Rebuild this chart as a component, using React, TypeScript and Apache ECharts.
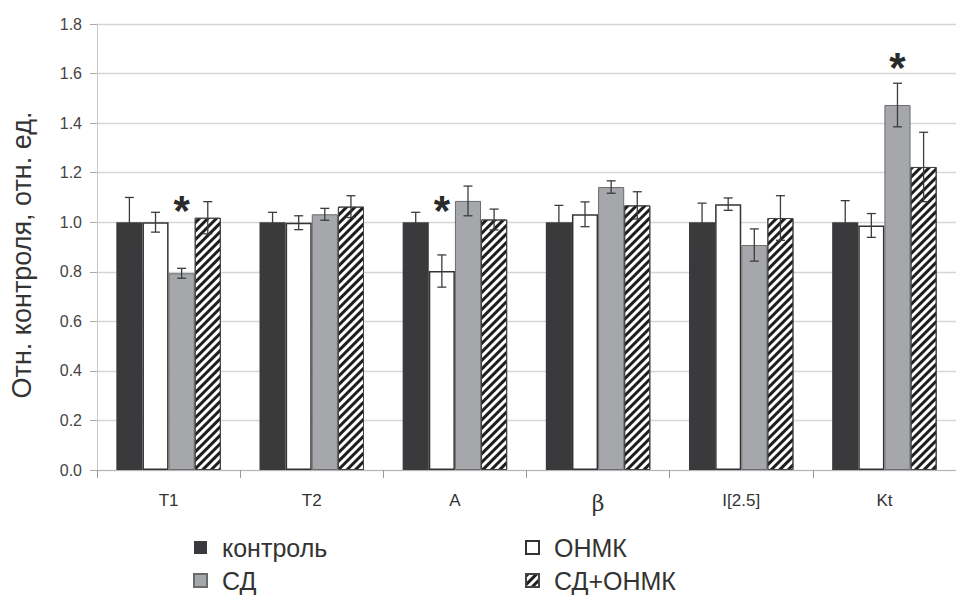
import React, { useEffect, useRef } from "react";
import * as echarts from "echarts";

const categories = ["T1", "T2", "A", "β", "I[2.5]", "Kt"];
const seriesNames = ["контроль", "ОНМК", "СД", "СД+ОНМК"];

const control = [1.0, 1.0, 1.0, 1.0, 1.0, 1.0];
const controlErr = [0.1, 0.04, 0.04, 0.068, 0.077, 0.087];
const onmk = [1.0, 0.998, 0.803, 1.032, 1.073, 0.987];
const onmkErr = [0.04, 0.028, 0.065, 0.05, 0.025, 0.048];
const sd = [0.794, 1.032, 1.086, 1.142, 0.908, 1.473];
const sdErr = [0.02, 0.024, 0.06, 0.025, 0.065, 0.088];
const sdOnmk = [1.018, 1.063, 1.011, 1.068, 1.017, 1.223];
const sdOnmkErr = [0.065, 0.044, 0.042, 0.055, 0.09, 0.14];

// significance markers: category, series index, level of the star
const starCategories = ["T1", "A", "Kt"];
const starSeries = [2, 1, 2];
const starLevels = [1.08, 1.08, 1.66];

const yTicks = { min: 0, max: 1.8, interval: 0.2 };

const FONT = "'Liberation Sans', Arial, sans-serif";
const CAT_GAP = 0.27;

export default function App() {
  const ref = useRef<HTMLDivElement>(null);

  useEffect(() => {
    if (!ref.current) return;
    const chart = echarts.init(ref.current, undefined, { renderer: "svg" });

    const values = [control, onmk, sd, sdOnmk];
    const errs = [controlErr, onmkErr, sdErr, sdOnmkErr];
    const errData: number[][] = [];
    values.forEach((vals, si) => {
      vals.forEach((v, ci) => errData.push([ci, si, v, errs[si][ci]]));
    });
    const starData = starCategories.map((c, i) => [
      categories.indexOf(c),
      starSeries[i],
      starLevels[i],
    ]);

    const barX = (api: any, cat: number, si: number) => {
      const band = api.size([1, 0])[0];
      const total = band * (1 - CAT_GAP);
      const w = total / 4;
      return api.coord([cat, 0])[0] - total / 2 + w * (si + 0.5);
    };

    const styles = [
      { color: "#3a3a3c", borderColor: "#3a3a3c", borderWidth: 0 },
      { color: "#ffffff", borderColor: "#333333", borderWidth: 1.5 },
      { color: "#a5a7aa", borderColor: "#6a6b6d", borderWidth: 1 },
      {
        color: "#ffffff",
        borderColor: "#444444",
        borderWidth: 1,
        decal: {
          symbol: "rect",
          symbolSize: 1,
          color: "#1e1e1e",
          dashArrayX: [1, 0],
          dashArrayY: [2.6, 2.6],
          rotation: -Math.PI / 4,
        },
      },
    ];

    const legendBase = {
      orient: "vertical",
      top: 535,
      height: 60,
      padding: 0,
      itemWidth: 13,
      itemHeight: 13,
      itemGap: 8,
      icon: "rect",
      textStyle: {
        fontFamily: FONT,
        fontSize: 25,
        color: "#333",
        lineHeight: 22,
        padding: [0, 0, 0, 10],
      },
    };

    const option: any = {
      animation: false,
      backgroundColor: "#ffffff",
      grid: { left: 96, top: 24, width: 870, height: 446, containLabel: false },
      legend: [
        { ...legendBase, data: ["контроль", "СД"], left: 193 },
        { ...legendBase, data: ["ОНМК", "СД+ОНМК"], left: 525 },
      ],
      xAxis: {
        type: "category",
        data: categories,
        axisLine: { lineStyle: { color: "#b5b5b5", width: 1 } },
        axisTick: { show: true, length: 8, lineStyle: { color: "#999" } },
        axisLabel: {
          margin: 22,
          fontFamily: FONT,
          fontSize: 17,
          color: "#333",
          formatter: (v: string) => (v === "β" ? "{b|β}" : v),
          rich: {
            b: { fontFamily: "'DejaVu Serif', 'Liberation Serif', serif", fontSize: 22, color: "#333" },
          },
        },
      },
      yAxis: {
        type: "value",
        min: yTicks.min,
        max: yTicks.max,
        interval: yTicks.interval,
        name: "Отн. контроля, отн. ед.",
        nameLocation: "middle",
        nameGap: 62,
        nameRotate: 90,
        nameTextStyle: {
          fontFamily: FONT,
          fontSize: 27,
          color: "#333",
          padding: [0, 16, 0, 0],
        },
        axisLine: { show: true, lineStyle: { color: "#c8c8c8" } },
        axisTick: { show: true, length: 7, lineStyle: { color: "#aaa" } },
        axisLabel: {
          margin: 15,
          fontFamily: FONT,
          fontSize: 16,
          color: "#444",
          formatter: (v: number) => v.toFixed(1),
        },
        splitLine: { lineStyle: { color: "#d6d6d6", width: 1.3 } },
      },
      series: [
        ...seriesNames.map((name, si) => ({
          name,
          type: "bar",
          data: values[si],
          barGap: "0%",
          barCategoryGap: "27%",
          itemStyle: styles[si],
          z: 2,
        })),
        {
          type: "custom",
          name: "err",
          data: errData,
          encode: { x: 0, y: 2 },
          z: 5,
          silent: true,
          renderItem: (params: any, api: any) => {
            const cat = api.value(0);
            const si = api.value(1);
            const mean = api.value(2);
            const err = api.value(3);
            const cx = barX(api, cat, si);
            const yT = api.coord([cat, mean + err])[1];
            const yB = api.coord([cat, mean - err])[1];
            const cap = 4.5;
            const st = { stroke: "#3c3c3c", lineWidth: 1.3 };
            return {
              type: "group",
              children: [
                { type: "line", shape: { x1: cx, y1: yT, x2: cx, y2: yB }, style: st },
                { type: "line", shape: { x1: cx - cap, y1: yT, x2: cx + cap, y2: yT }, style: st },
                { type: "line", shape: { x1: cx - cap, y1: yB, x2: cx + cap, y2: yB }, style: st },
              ],
            };
          },
        },
        {
          type: "custom",
          name: "stars",
          data: starData,
          encode: { x: 0, y: 2 },
          z: 6,
          silent: true,
          renderItem: (params: any, api: any) => {
            const cat = api.value(0);
            const si = api.value(1);
            const lvl = api.value(2);
            const cx = barX(api, cat, si);
            const size = 42;
            const y = api.coord([cat, lvl])[1];
            return {
              type: "text",
              style: {
                text: "*",
                x: cx,
                y: y + size * 0.2,
                align: "center",
                verticalAlign: "middle",
                font: `bold ${size}px ${FONT}`,
                fill: "#2a2a2a",
              },
            };
          },
        },
      ],
    };

    chart.setOption(option);
    return () => chart.dispose();
  }, []);

  return (
    <div
      ref={ref}
      style={{ position: "fixed", left: 0, top: 0, width: 956, height: 595 }}
    />
  );
}
